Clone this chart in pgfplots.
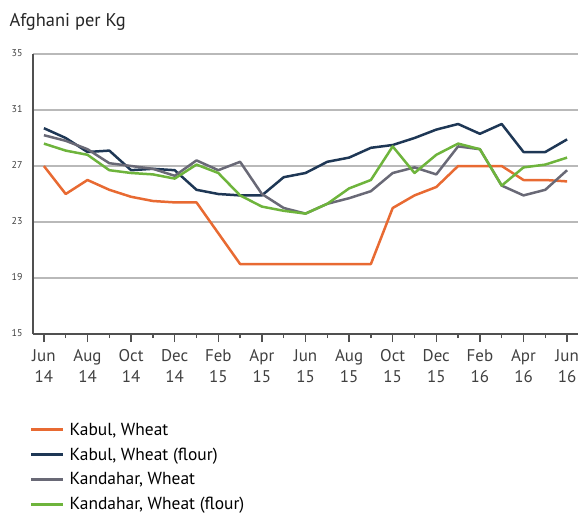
\documentclass[border=0pt]{standalone}
\usepackage{pgfplots}
\pgfplotsset{compat=1.18}
\usepackage{fontspec}
\setmainfont{PT Sans}
\definecolor{cOrange}{RGB}{232,106,50}
\definecolor{cNavy}{RGB}{30,55,85}
\definecolor{cGray}{RGB}{105,105,118}
\definecolor{cGreen}{RGB}{110,180,60}
\definecolor{cGrid}{RGB}{185,185,185}
\definecolor{cAxis}{RGB}{80,80,80}
\begin{document}
\begin{tikzpicture}
\path[use as bounding box] (-33bp,-183bp) rectangle (550bp,334bp);
\begin{axis}[
  at={(0,0)}, anchor=south west,
  scale only axis, width=545bp, height=280bp,
  xmin=-0.5, xmax=24.5, ymin=15, ymax=35,
  ytick={15,19,23,27,31,35},
  ymajorgrids, grid style={cGrid, line width=1.4bp},
  axis x line*=bottom, axis y line*=left,
  axis line style={-, cAxis, line width=1.6bp},
  xtick={0,2,...,24}, minor xtick={1,3,...,23},
  xticklabels={{Jun\\14},{Aug\\14},{Oct\\14},{Dec\\14},{Feb\\15},{Apr\\15},{Jun\\15},{Aug\\15},{Oct\\15},{Dec\\15},{Feb\\16},{Apr\\16},{Jun\\16}},
  x tick label style={align=center, font=\fontsize{17}{21}\selectfont, text=black!75, yshift=-4bp},
  y tick label style={font=\fontsize{10}{11}\selectfont, text=black!75, xshift=1bp, yshift=1bp},
  tick align=outside,
  major tick length=8bp, minor tick length=4bp,
  x tick style={cAxis, line width=1.3bp},
  ytick style={draw=none},
  /pgf/number format/assume math mode=true,
  legend style={at={(axis description cs:-0.006,-0.31)}, anchor=north west, draw=none, fill=none,
    font=\fontsize{17.5}{19}\selectfont, row sep=7bp, inner sep=0pt, column sep=3bp},
  legend cell align=left,
  legend image code/.code={\draw[#1, line width=2.8bp] (0bp,0bp) -- (32bp,0bp);},
  every axis plot/.append style={line width=2.5bp, line join=round},
  clip=false,
]
\addplot[cOrange] coordinates {(0,27.0)(1,25.0)(2,26.0)(3,25.3)(4,24.8)(5,24.5)(6,24.4)(7,24.4)(8,22.2)(9,20.0)(10,20.0)(11,20.0)(12,20.0)(13,20.0)(14,20.0)(15,20.0)(16,24.0)(17,24.9)(18,25.5)(19,27.0)(20,27.0)(21,27.0)(22,26.0)(23,26.0)(24,25.9)};
\addlegendentry{Kabul, Wheat}
\addplot[cNavy] coordinates {(0,29.7)(1,29.0)(2,28.0)(3,28.1)(4,26.7)(5,26.8)(6,26.7)(7,25.3)(8,25.0)(9,24.9)(10,24.9)(11,26.2)(12,26.5)(13,27.3)(14,27.6)(15,28.3)(16,28.5)(17,29.0)(18,29.6)(19,30.0)(20,29.3)(21,30.0)(22,28.0)(23,28.0)(24,28.9)};
\addlegendentry{Kabul, Wheat (flour)}
\addplot[cGray] coordinates {(0,29.2)(1,28.8)(2,28.2)(3,27.2)(4,27.0)(5,26.8)(6,26.3)(7,27.4)(8,26.7)(9,27.3)(10,25.0)(11,24.0)(12,23.6)(13,24.3)(14,24.7)(15,25.2)(16,26.5)(17,26.9)(18,26.4)(19,28.4)(20,28.2)(21,25.6)(22,24.9)(23,25.3)(24,26.7)};
\addlegendentry{Kandahar, Wheat}
\addplot[cGreen] coordinates {(0,28.6)(1,28.1)(2,27.8)(3,26.7)(4,26.5)(5,26.4)(6,26.1)(7,27.1)(8,26.5)(9,24.9)(10,24.1)(11,23.8)(12,23.6)(13,24.3)(14,25.4)(15,26.0)(16,28.4)(17,26.5)(18,27.8)(19,28.6)(20,28.2)(21,25.6)(22,26.9)(23,27.1)(24,27.6)};
\addlegendentry{Kandahar, Wheat (flour)}
\end{axis}
\node[anchor=west, font=\fontsize{18.5}{20}\selectfont, text=black!85] at (-27bp,312bp) {Afghani per Kg};
\end{tikzpicture}
\end{document}
